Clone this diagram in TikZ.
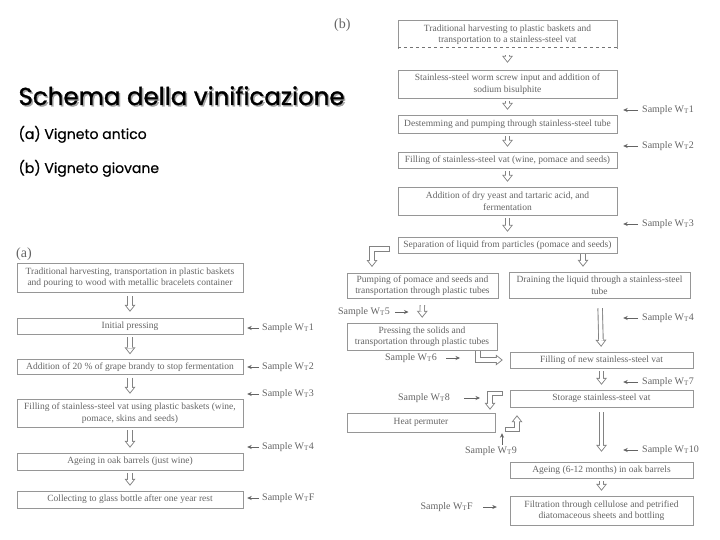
\documentclass[tikz,border=0pt]{standalone}
\usepackage{fontspec}
\setmainfont{Liberation Serif}
\newfontfamily\titlefont[FakeBold=1.2]{Poppins}
\newfontfamily\subfont[FakeBold=0.6]{Poppins}
\usetikzlibrary{arrows.meta}
\definecolor{boxgray}{RGB}{150,150,150}
\definecolor{txtgray}{RGB}{100,100,100}
\definecolor{arrgray}{RGB}{130,130,130}
\tikzstyle{stepbox}=[rectangle, draw=boxgray, text=txtgray, font=\fontsize{9.5}{11.5}\selectfont, align=center, inner sep=1pt, minimum height=16pt]
\tikzstyle{awide}=[minimum width=226pt]
\tikzstyle{bwide}=[minimum width=219pt]
\tikzstyle{cwide}=[minimum width=183pt]
\tikzstyle{sample}=[text=txtgray, font=\fontsize{10}{11}\selectfont, inner sep=0pt]
\tikzstyle{samp}=[draw=txtgray, line width=0.6pt, -{Stealth[length=4.5pt, width=4pt]}]
% hollow arrow: white line over a wider gray one
\tikzset{hollow/.style 2 args={draw=white, line width=3.6pt, line join=miter, shorten <=#1, shorten >=#2,
    -{Triangle[length=4.6pt, width=7.3pt, sep=1.45pt, line width=0pt]},
    preaction={draw=arrgray, line width=5.4pt, line join=miter, shorten <=#1, shorten >=#2,
    -{Triangle[length=7pt, width=11pt, line width=0pt]}}},
  hollow/.default={3pt}{5pt}}

\begin{document}
\begin{tikzpicture}[x=1pt, y=-1pt]
\useasboundingbox (0,0) rectangle (720,540);
% title
\node[anchor=base west, font=\titlefont\fontsize{24.5}{25}\selectfont, text=black!35] (titleshadow) at (16.5,106.5) {Schema della vinificazione};
\node[anchor=base west, font=\titlefont\fontsize{24.5}{25}\selectfont] (title) at (15,105) {Schema della vinificazione};
\node[anchor=base west, font=\subfont\fontsize{14}{14}\selectfont] (suba) at (15,139) {(a) Vigneto antico};
\node[anchor=base west, font=\subfont\fontsize{14}{14}\selectfont] (subb) at (15,173) {(b) Vigneto giovane};

% (a)
\node[anchor=base west, text=txtgray, font=\fontsize{14}{14}\selectfont, inner sep=0pt] (lbla) at (16,257) {(a)};
\node[stepbox, awide, minimum height=29pt] (a1) at (130,277.5) {Traditional harvesting, transportation in plastic baskets\\and pouring to wood with metallic bracelets container};
\node[stepbox, awide] (a2) at (130,326) {Initial pressing};
\node[stepbox, awide, minimum height=15pt] (a3) at (130,367) {Addition of 20 \% of grape brandy to stop fermentation};
\node[stepbox, awide, minimum height=28pt] (a4) at (130,413) {Filling of stainless-steel vat using plastic baskets (wine,\\pomace, skins and seeds)};
\node[stepbox, awide, minimum height=17pt] (a5) at (130,461.5) {Ageing in oak barrels (just wine)};
\node[stepbox, awide, minimum height=17pt] (a6) at (130,499.5) {Collecting to glass bottle after one year rest};
\draw[hollow={4pt}{6pt}] (a1) -- (a2);
\draw[hollow] (a2) -- (a3);
\draw[hollow] (a3) -- (a4);
\draw[hollow] (a4) -- (a5);
\draw[hollow] (a5) -- (a6);
\node[sample, anchor=west] (sa1) at (262,328) {Sample W\textsubscript{T}1};
\node[sample, anchor=west] (sa2) at (262,367) {Sample W\textsubscript{T}2};
\node[sample, anchor=west] (sa3) at (262,394) {Sample W\textsubscript{T}3};
\node[sample, anchor=west] (sa4) at (262,447) {Sample W\textsubscript{T}4};
\node[sample, anchor=west] (saf) at (262,498) {Sample W\textsubscript{T}F};
\draw[samp, shorten <=3pt, shorten >=4pt] (sa1.west) -- (sa1.west -| a1.east);
\draw[samp, shorten <=3pt, shorten >=4pt] (sa2.west) -- (sa2.west -| a1.east);
\draw[samp, shorten <=3pt, shorten >=4pt] (sa3.west) -- (sa3.west -| a1.east);
\draw[samp, shorten <=3pt, shorten >=4pt] (sa4.west) -- (sa4.west -| a1.east);
\draw[samp, shorten <=3pt, shorten >=4pt] (saf.west) -- (saf.west -| a1.east);

% (b)
\node[anchor=base west, text=txtgray, font=\fontsize{14}{14}\selectfont, inner sep=0pt] (lblb) at (334,29) {(b)};
\node[stepbox, bwide, draw=none, minimum height=29pt] (b1) at (507.5,34.5) {Traditional harvesting to plastic baskets and\\transportation to a stainless-steel vat};
\draw[boxgray] (b1.south west) -- (b1.north west) -- (b1.north east) -- (b1.south east);
\draw[black!55, dashed, line width=0.8pt] ([yshift=2pt]b1.south west) -- ([yshift=2pt]b1.south east);
\node[stepbox, bwide, minimum height=28pt] (b2) at (507.5,84) {Stainless-steel worm screw input and addition of\\sodium bisulphite};
\node[stepbox, bwide, minimum height=18pt] (b3) at (507.5,124) {Destemming and pumping through stainless-steel tube};
\node[stepbox, bwide] (b4) at (507.5,160) {Filling of stainless-steel vat (wine, pomace and seeds)};
\node[stepbox, bwide, minimum height=28pt] (b5) at (507.5,201) {Addition of dry yeast and tartaric acid, and\\fermentation};
\node[stepbox, bwide] (b6) at (507.5,245) {Separation of liquid from particles (pomace and seeds)};
\node[stepbox, minimum width=151pt, minimum height=25pt] (b7) at (422.5,285.5) {Pumping of pomace and seeds and\\transportation through plastic tubes};
\node[stepbox, minimum width=181pt, minimum height=26pt] (b8) at (599.5,285) {Draining the liquid through a stainless-steel\\tube};
\node[stepbox, minimum width=150pt, minimum height=27pt] (b9) at (422,336.5) {Pressing the solids and\\transportation through plastic tubes};
\node[stepbox, cwide] (b10) at (601.5,360) {Filling of new stainless-steel vat};
\node[stepbox, cwide, minimum height=17pt] (b11) at (601.5,398.5) {Storage stainless-steel vat};
\node[stepbox, minimum width=148pt, minimum height=19pt] (b12) at (421,422.5) {Heat permuter};
\node[stepbox, cwide] (b13) at (601.5,470) {Ageing (6-12 months) in oak barrels};
\node[stepbox, cwide, minimum height=29pt] (b14) at (601.5,510.5) {Filtration through cellulose and petrified\\diatomaceous sheets and bottling};
% bend points
\coordinate (k1) at (390,249);
\coordinate (k2) at (372,273);
\coordinate (k3) at (583,0);
\coordinate (k5) at (478,0);
\coordinate (k6) at (490,0);
\coordinate (k7) at (517,0);
\coordinate (k8) at (502,0);
\draw[hollow={6pt}{7pt}] (b1) -- (b2);
\draw[hollow] (b2) -- (b3);
\draw[hollow] (b3) -- (b4);
\draw[hollow] (b4) -- (b5);
\draw[hollow] (b5) -- (b6);
\draw[hollow={0pt}{6pt}, shorten <=0.9pt] (k1) -| (k2);
\draw[hollow={1pt}{5pt}] (k3 |- b6.south) -- (k3 |- b8.north);
\draw[hollow={7pt}{5pt}] (b7) -- (b9);
\draw[hollow={10pt}{5pt}] (b8) -- (b10);
\draw[hollow={1pt}{7pt}] (k5 |- b9.south) |- (b10.west);
\draw[hollow] (b10) -- (b11);
\draw[hollow={7pt}{3pt}, shorten <=7.9pt] ([yshift=5pt]b11.west) -| (k6 |- b12.north);
\draw[hollow={10pt}{8pt}, shorten <=10.9pt] ([yshift=-7pt]b12.east) -| (k7 |- b11.south);
\draw[hollow={5pt}{10pt}] (b11) -- (b13);
\draw[hollow] (b13) -- (b14);
% samples
\node[sample, anchor=west] (sb1) at (642,110) {Sample W\textsubscript{T}1};
\node[sample, anchor=west] (sb2) at (642,146) {Sample W\textsubscript{T}2};
\node[sample, anchor=west] (sb3) at (642,224) {Sample W\textsubscript{T}3};
\node[sample, anchor=west] (sb4) at (642,318) {Sample W\textsubscript{T}4};
\node[sample, anchor=west] (sb7) at (642,382) {Sample W\textsubscript{T}7};
\node[sample, anchor=west] (sb10) at (642,450) {Sample W\textsubscript{T}10};
\draw[samp, shorten <=4pt, shorten >=6pt] (sb1.west) -- (sb1.west -| b2.east);
\draw[samp, shorten <=4pt, shorten >=6pt] (sb2.west) -- (sb2.west -| b2.east);
\draw[samp, shorten <=4pt, shorten >=6pt] (sb3.west) -- (sb3.west -| b2.east);
\draw[samp, shorten <=4pt, shorten >=6pt] (sb4.west) -- (sb4.west -| b2.east);
\draw[samp, shorten <=4pt, shorten >=6pt] (sb7.west) -- (sb7.west -| b2.east);
\draw[samp, shorten <=4pt, shorten >=6pt] (sb10.west) -- (sb10.west -| b2.east);
\node[sample, anchor=east] (sb5) at (390,312) {Sample W\textsubscript{T}5};
\node[sample, anchor=east] (sb6) at (437,358) {Sample W\textsubscript{T}6};
\node[sample, anchor=east] (sb8) at (450,398) {Sample W\textsubscript{T}8};
\node[sample, anchor=north] (sb9) at (491,446) {Sample W\textsubscript{T}9};
\node[sample, anchor=east] (sbf) at (473,507) {Sample W\textsubscript{T}F};
\draw[samp, shorten <=5pt, shorten >=14pt] (sb5.east) -- (sb5.east -| b7);
\draw[samp, shorten <=9pt, shorten >=18pt] (sb6.east) -- (sb6.east -| k5);
\draw[samp, shorten <=14pt, shorten >=10pt] (sb8.east) -- (sb8.east -| k6);
\draw[samp, shorten <=1pt, shorten >=1pt] (k8 |- sb9.north) -- (k8 |- b12.south);
\draw[samp, shorten <=10pt, shorten >=13pt] (sbf.east) -- (sbf.east -| b14.west);
\end{tikzpicture}
\end{document}
